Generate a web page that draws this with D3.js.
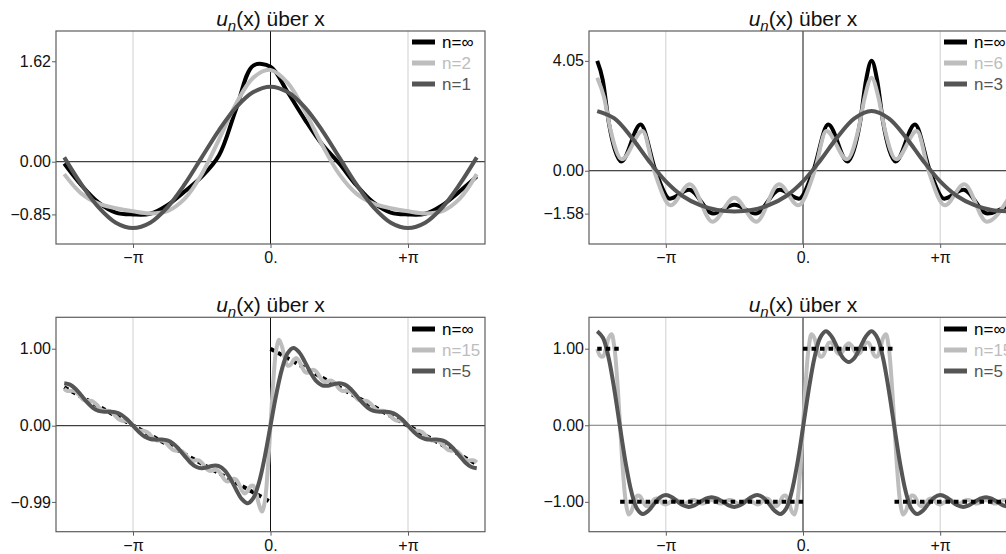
<!DOCTYPE html>
<html>
<head>
<meta charset="utf-8">
<script src="https://cdn.jsdelivr.net/npm/d3@7"></script>
<style>
  body { margin: 0; background: #fff; }
  svg { display: block; font-family: "Liberation Sans", Arial, sans-serif; }
</style>
</head>
<body>
<svg id="chart" width="1006" height="554"></svg>
<script>
// all x values are in units of pi
var xTickValues = [-1, 0, 1];
var xTickLabels = ["\u2212\u03c0", "0.", "+\u03c0"];

// ---- panel 1 : n = inf, 2, 1  (sampled every pi/8 from -1.5pi to 1.5pi)
var p1Inf = [-0.03, -0.38, -0.66, -0.82, -0.85, -0.84, -0.70, -0.48, -0.24, 0.10, 0.85, 1.55, 1.53,
             1.12, 0.68, 0.28, -0.03, -0.38, -0.66, -0.82, -0.85, -0.84, -0.70, -0.48, -0.24];
var p1N2 = [-0.20, -0.515, -0.676, -0.750, -0.80, -0.834, -0.796, -0.599, -0.20, 0.357, 0.936, 1.356, 1.48,
            1.272, 0.816, 0.273, -0.20, -0.515, -0.676, -0.750, -0.80, -0.834, -0.796, -0.599, -0.20];
var p1N1 = [0.07, -0.367, -0.736, -0.983, -1.07, -0.983, -0.736, -0.367, 0.07, 0.507, 0.876, 1.123, 1.21,
            1.123, 0.876, 0.507, 0.07, -0.367, -0.736, -0.983, -1.07, -0.983, -0.736, -0.367, 0.07];
var p1Ticks = [1.62, 0, -0.85];
var p1TickLabels = ["1.62", "0.00", "\u22120.85"];

// ---- panel 2 : n = inf, 6 (read at extrema), 3 (every pi/8)
var p2InfX = [-1.5, -1.46, -1.415, -1.37, -1.325, -1.184, -1.075, -0.97, -0.83, -0.655, -0.5,
              -0.345, -0.17, -0.03, 0.075, 0.184, 0.325, 0.37, 0.415, 0.46, 0.5,
              0.54, 0.585, 0.63, 0.675, 0.816, 0.925, 1.03, 1.17, 1.345, 1.5];
var p2InfY = [4.05, 3.35, 1.75, 0.75, 0.34, 1.70, 0.0, -1.03, -0.70, -1.58, -1.25,
              -1.58, -0.70, -1.03, 0.0, 1.70, 0.34, 0.75, 1.75, 3.35, 4.05,
              3.35, 1.75, 0.75, 0.34, 1.70, 0.0, -1.03, -0.70, -1.58, -1.25];
var p2N6X = [-1.5, -1.45, -1.405, -1.32, -1.17, -1.085, -0.965, -0.825, -0.66, -0.5,
             -0.34, -0.175, -0.035, 0.085, 0.17, 0.32, 0.405, 0.45, 0.5,
             0.55, 0.595, 0.68, 0.83, 0.915, 1.035, 1.175, 1.34, 1.5];
var p2N6Y = [3.43, 2.7, 1.55, 0.42, 1.46, 0.0, -1.27, -0.50, -1.88, -1.0,
             -1.88, -0.50, -1.27, 0.0, 1.46, 0.42, 1.55, 2.7, 3.43,
             2.7, 1.55, 0.42, 1.46, 0.0, -1.27, -0.50, -1.88, -1.0];
var p2N3 = [2.20, 1.93, 1.23, 0.37, -0.39, -0.94, -1.27, -1.45, -1.50, -1.45, -1.27, -0.94, -0.39,
            0.37, 1.23, 1.93, 2.20, 1.93, 1.23, 0.37, -0.39, -0.94, -1.27, -1.45, -1.50];
var p2Ticks = [4.05, 0, -1.58];
var p2TickLabels = ["4.05", "0.00", "\u22121.58"];

// ---- panel 3 : sawtooth, n = 15 (every pi/48), n = 5 (every pi/24)
var p3N15 = [0.479, 0.452, 0.450, 0.454, 0.442, 0.406, 0.361, 0.330, 0.321, 0.324, 0.315, 0.284,
  0.242, 0.208, 0.194, 0.194, 0.187, 0.161, 0.121, 0.085, 0.067, 0.065, 0.060, 0.038,
  0, -0.038, -0.060, -0.065, -0.067, -0.085, -0.121, -0.161, -0.187, -0.194, -0.194, -0.208,
  -0.242, -0.284, -0.315, -0.324, -0.321, -0.330, -0.361, -0.406, -0.442, -0.454, -0.450, -0.452,
  -0.479, -0.528, -0.571, -0.588, -0.579, -0.572, -0.594, -0.647, -0.702, -0.726, -0.711, -0.689,
  -0.700, -0.761, -0.840, -0.880, -0.850, -0.789, -0.780, -0.874, -1.029, -1.116, -0.988, -0.589,
  0, 0.589, 0.988, 1.116, 1.029, 0.874, 0.780, 0.789, 0.850, 0.880, 0.840, 0.761,
  0.700, 0.689, 0.711, 0.726, 0.702, 0.647, 0.594, 0.572, 0.579, 0.588, 0.571, 0.528,
  0.479, 0.452, 0.450, 0.454, 0.442, 0.406, 0.361, 0.330, 0.321, 0.324, 0.315, 0.284,
  0.242, 0.208, 0.194, 0.194, 0.187, 0.161, 0.121, 0.085, 0.067, 0.065, 0.060, 0.038, 0,
  -0.038, -0.060, -0.065, -0.067, -0.085, -0.121, -0.161, -0.187, -0.194, -0.194, -0.208, -0.242,
  -0.284, -0.315, -0.324, -0.321, -0.330, -0.361, -0.406, -0.442, -0.454, -0.450, -0.452, -0.479];
var p3N5 = [0.552, 0.533, 0.477, 0.392, 0.303, 0.232, 0.192, 0.180, 0.181, 0.173, 0.141, 0.080,
  0, -0.080, -0.141, -0.173, -0.181, -0.180, -0.192, -0.232, -0.303, -0.392, -0.477, -0.533,
  -0.552, -0.539, -0.519, -0.524, -0.579, -0.688, -0.829, -0.954, -1.008, -0.942, -0.735, -0.404,
  0, 0.404, 0.735, 0.942, 1.008, 0.954, 0.829, 0.688, 0.579, 0.524, 0.519, 0.539,
  0.552, 0.533, 0.477, 0.392, 0.303, 0.232, 0.192, 0.180, 0.181, 0.173, 0.141, 0.080, 0,
  -0.080, -0.141, -0.173, -0.181, -0.180, -0.192, -0.232, -0.303, -0.392, -0.477, -0.533, -0.552];
var p3InfX = [[-1.5, 0], [0, 1.5]];
var p3InfY = [[0.5, -0.99], [1.0, -0.5]];
var p3Ticks = [1.0, 0, -0.99];
var p3TickLabels = ["1.00", "0.00", "\u22120.99"];

// ---- panel 4 : square wave, n = 15 (every pi/48), n = 5 (every pi/24)
var p4N15 = [0.996, 0.908, 0.897, 0.995, 1.138, 1.189, 1.016, 0.586, -0.012, -0.598, -1.006, -1.165,
  -1.120, -0.999, -0.919, -0.928, -0.996, -1.052, -1.052, -1.009, -0.966, -0.957, -0.984, -1.021,
  -1.035, -1.018, -0.987, -0.970, -0.979, -1.006, -1.025, -1.022, -0.999, -0.979, -0.977, -0.995,
  -1.017, -1.023, -1.009, -0.987,
  -0.975, -0.987, -1.009, -1.023, -1.017, -0.995, -0.977, -0.979, -0.999, -1.022, -1.025, -1.006,
  -0.979, -0.970, -0.987, -1.018, -1.035, -1.021, -0.984, -0.957, -0.966, -1.009, -1.052, -1.052,
  -0.996, -0.928, -0.919, -0.999, -1.120, -1.165, -1.006, -0.598, -0.012, 0.586, 1.016, 1.189,
  1.138, 0.995, 0.897, 0.908, 0.996, 1.075, 1.078, 1.016, 0.946, 0.928, 0.972, 1.040,
  1.071, 1.040, 0.972, 0.928, 0.946, 1.016, 1.078, 1.075, 0.996, 0.908, 0.897, 0.995,
  1.138, 1.189, 1.016, 0.586, -0.012, -0.598, -1.006, -1.165, -1.120, -0.999, -0.919, -0.928,
  -0.996, -1.052, -1.052, -1.009, -0.966, -0.957, -0.984, -1.021, -1.035, -1.018, -0.987, -0.970,
  -0.979, -1.006, -1.025, -1.022, -0.999, -0.979, -0.977, -0.995, -1.017, -1.023, -1.009, -0.987,
  -0.975, -0.987, -1.009, -1.023, -1.017, -0.995, -0.977, -0.979, -0.999];
var p4N5 = [1.227, 1.142, 0.879, 0.463, -0.030, -0.505, -0.876, -1.095, -1.160, -1.114, -1.021, -0.941,
  -0.912, -0.937, -0.993, -1.045, -1.066, -1.046, -1.002, -0.957, -0.939, -0.957, -1.002, -1.046,
  -1.066, -1.045, -0.993, -0.937, -0.912, -0.941, -1.021, -1.114, -1.160, -1.095, -0.876, -0.505,
  -0.030, 0.463, 0.879, 1.142, 1.227, 1.160, 1.015, 0.879, 0.825, 0.879, 1.015, 1.160,
  1.227, 1.142, 0.879, 0.463, -0.030, -0.505, -0.876, -1.095, -1.160, -1.114, -1.021, -0.941, -0.912,
  -0.937, -0.993, -1.045, -1.066, -1.046, -1.002, -0.957, -0.939, -0.957, -1.002, -1.046, -1.066];
var p4InfX = [[-1.5, -1.333], [-1.333, 0], [0, 0.667], [0.667, 1.5]];
var p4InfY = [[1, 1], [-1, -1], [1, 1], [-1, -1]];
var p4Ticks = [1.0, 0, -1.0];
var p4TickLabels = ["1.00", "0.00", "\u22121.00"];

// sample grids (pi units)
var grid8 = d3.range(-12, 13).map(function(k) { return k / 8; });
var grid24 = d3.range(-36, 37).map(function(k) { return k / 24; });
var grid48 = d3.range(-72, 73).map(function(k) { return k / 48; });

var BLACK = "#000", LIGHT = "#bdbdbd", DARK = "#555";
var svg = d3.select("#chart");

function addPanel(cfg) {
  var x = d3.scaleLinear().domain([-1.56, 1.56]).range([cfg.left, cfg.right]);
  var y = d3.scaleLinear().domain(cfg.yDomain).range([cfg.bottom, cfg.top]);
  var g = svg.append("g");

  var clipId = "clip" + cfg.id;
  svg.append("clipPath").attr("id", clipId).append("rect")
    .attr("x", cfg.left).attr("y", cfg.top)
    .attr("width", cfg.right - cfg.left).attr("height", cfg.bottom - cfg.top);

  // light grid at +-pi
  g.selectAll(".grid").data([-1, 1]).enter().append("line")
    .attr("x1", function(d) { return x(d); }).attr("x2", function(d) { return x(d); })
    .attr("y1", cfg.top).attr("y2", cfg.bottom)
    .attr("stroke", "#cfcfcf").attr("stroke-width", 1);
  // axes through the origin
  g.append("line").attr("x1", x(0)).attr("x2", x(0)).attr("y1", cfg.top).attr("y2", cfg.bottom)
    .attr("stroke", "#111").attr("stroke-width", 1);
  g.append("line").attr("x1", cfg.left).attr("x2", cfg.right).attr("y1", y(0)).attr("y2", y(0))
    .attr("stroke", cfg.zeroColor || "#111").attr("stroke-width", 1);

  var plot = g.append("g").attr("clip-path", "url(#" + clipId + ")");
  cfg.series.forEach(function(s) {
    var line = d3.line()
      .x(function(d) { return x(d[0]); })
      .y(function(d) { return y(d[1]); })
      .curve(s.curve || d3.curveCatmullRom);
    s.parts.forEach(function(part) {
      plot.append("path")
        .datum(d3.zip(part[0], part[1]))
        .attr("d", line)
        .attr("fill", "none")
        .attr("stroke", s.color)
        .attr("stroke-width", 4)
        .attr("stroke-linejoin", "round")
        .attr("stroke-dasharray", s.dash || null);
    });
  });

  // frame
  g.append("rect").attr("x", cfg.left).attr("y", cfg.top)
    .attr("width", cfg.right - cfg.left).attr("height", cfg.bottom - cfg.top)
    .attr("fill", "none").attr("stroke", "#5e5e5e").attr("stroke-width", 1.2);

  var yAxis = g.append("g").attr("transform", "translate(" + cfg.left + ",0)")
    .call(d3.axisLeft(y).tickValues(cfg.yTicks).tickSize(4).tickPadding(1)
      .tickFormat(function(d, i) { return cfg.yLabels[i]; }));
  var xAxis = g.append("g").attr("transform", "translate(0," + cfg.bottom + ")")
    .call(d3.axisBottom(x).tickValues(xTickValues).tickSize(4).tickPadding(3.5)
      .tickFormat(function(d, i) { return xTickLabels[i]; }));
  [yAxis, xAxis].forEach(function(a) {
    a.select(".domain").remove();
    a.selectAll("line").attr("stroke", "#5e5e5e");
    a.selectAll("text").attr("font-size", 16).attr("fill", "#111")
      .attr("font-family", "'Liberation Sans', Arial, sans-serif");
  });

  // title
  var t = g.append("text")
    .attr("x", (cfg.left + cfg.right) / 2).attr("y", cfg.top - 5.5)
    .attr("text-anchor", "middle").attr("font-size", 21).attr("fill", "#111");
  t.append("tspan").attr("font-style", "italic").text("u");
  t.append("tspan").attr("font-style", "italic").attr("font-size", 15).attr("dy", 5).text("n");
  t.append("tspan").attr("dy", -5).text("(x) \u00fcber x");

  // legend
  var lg = g.append("g");
  cfg.legend.forEach(function(item, i) {
    var ly = cfg.legendTop + i * 21;
    lg.append("line").attr("x1", cfg.right - 73).attr("x2", cfg.right - 50)
      .attr("y1", ly).attr("y2", ly).attr("stroke", item[1]).attr("stroke-width", 5);
    lg.append("text").attr("x", cfg.right - 43).attr("y", ly + 6)
      .attr("font-size", 17).attr("fill", item[1]).text(item[0]);
  });
}

addPanel({
  id: 1, left: 56, right: 485, top: 31, bottom: 244, yDomain: [-1.327, 2.108],
  yTicks: p1Ticks, yLabels: p1TickLabels, legendTop: 42,
  legend: [["n=\u221e", BLACK], ["n=2", LIGHT], ["n=1", DARK]],
  series: [
    { color: BLACK, parts: [[grid8, p1Inf]] },
    { color: LIGHT, parts: [[grid8, p1N2]] },
    { color: DARK, parts: [[grid8, p1N1]] }
  ]
});

addPanel({
  id: 2, left: 589, right: 1017, top: 31, bottom: 244, yDomain: [-2.70, 5.15],
  yTicks: p2Ticks, yLabels: p2TickLabels, legendTop: 42,
  legend: [["n=\u221e", BLACK], ["n=6", LIGHT], ["n=3", DARK]],
  series: [
    { color: BLACK, curve: d3.curveMonotoneX, parts: [[p2InfX, p2InfY]] },
    { color: LIGHT, curve: d3.curveMonotoneX, parts: [[p2N6X, p2N6Y]] },
    { color: DARK, parts: [[grid8, p2N3]] }
  ]
});

addPanel({
  id: 3, left: 56, right: 485, top: 317.3, bottom: 531.7, yDomain: [-1.377, 1.408],
  yTicks: p3Ticks, yLabels: p3TickLabels, legendTop: 329,
  legend: [["n=\u221e", BLACK], ["n=15", LIGHT], ["n=5", DARK]],
  series: [
    { color: BLACK, curve: d3.curveLinear, dash: "4.5,4", parts: p3InfX.map(function(px, i) { return [px, p3InfY[i]]; }) },
    { color: LIGHT, parts: [[grid48, p3N15]] },
    { color: DARK, parts: [[grid24, p3N5]] }
  ]
});

addPanel({
  id: 4, left: 589, right: 1017, top: 317.3, bottom: 531.7, yDomain: [-1.39, 1.41],
  yTicks: p4Ticks, yLabels: p4TickLabels, legendTop: 329, zeroColor: "#777",
  legend: [["n=\u221e", BLACK], ["n=15", LIGHT], ["n=5", DARK]],
  series: [
    { color: LIGHT, parts: [[grid48, p4N15]] },
    { color: DARK, parts: [[grid24, p4N5]] },
    { color: BLACK, curve: d3.curveLinear, dash: "4.5,4", parts: p4InfX.map(function(px, i) { return [px, p4InfY[i]]; }) }
  ]
});
</script>
</body>
</html>
